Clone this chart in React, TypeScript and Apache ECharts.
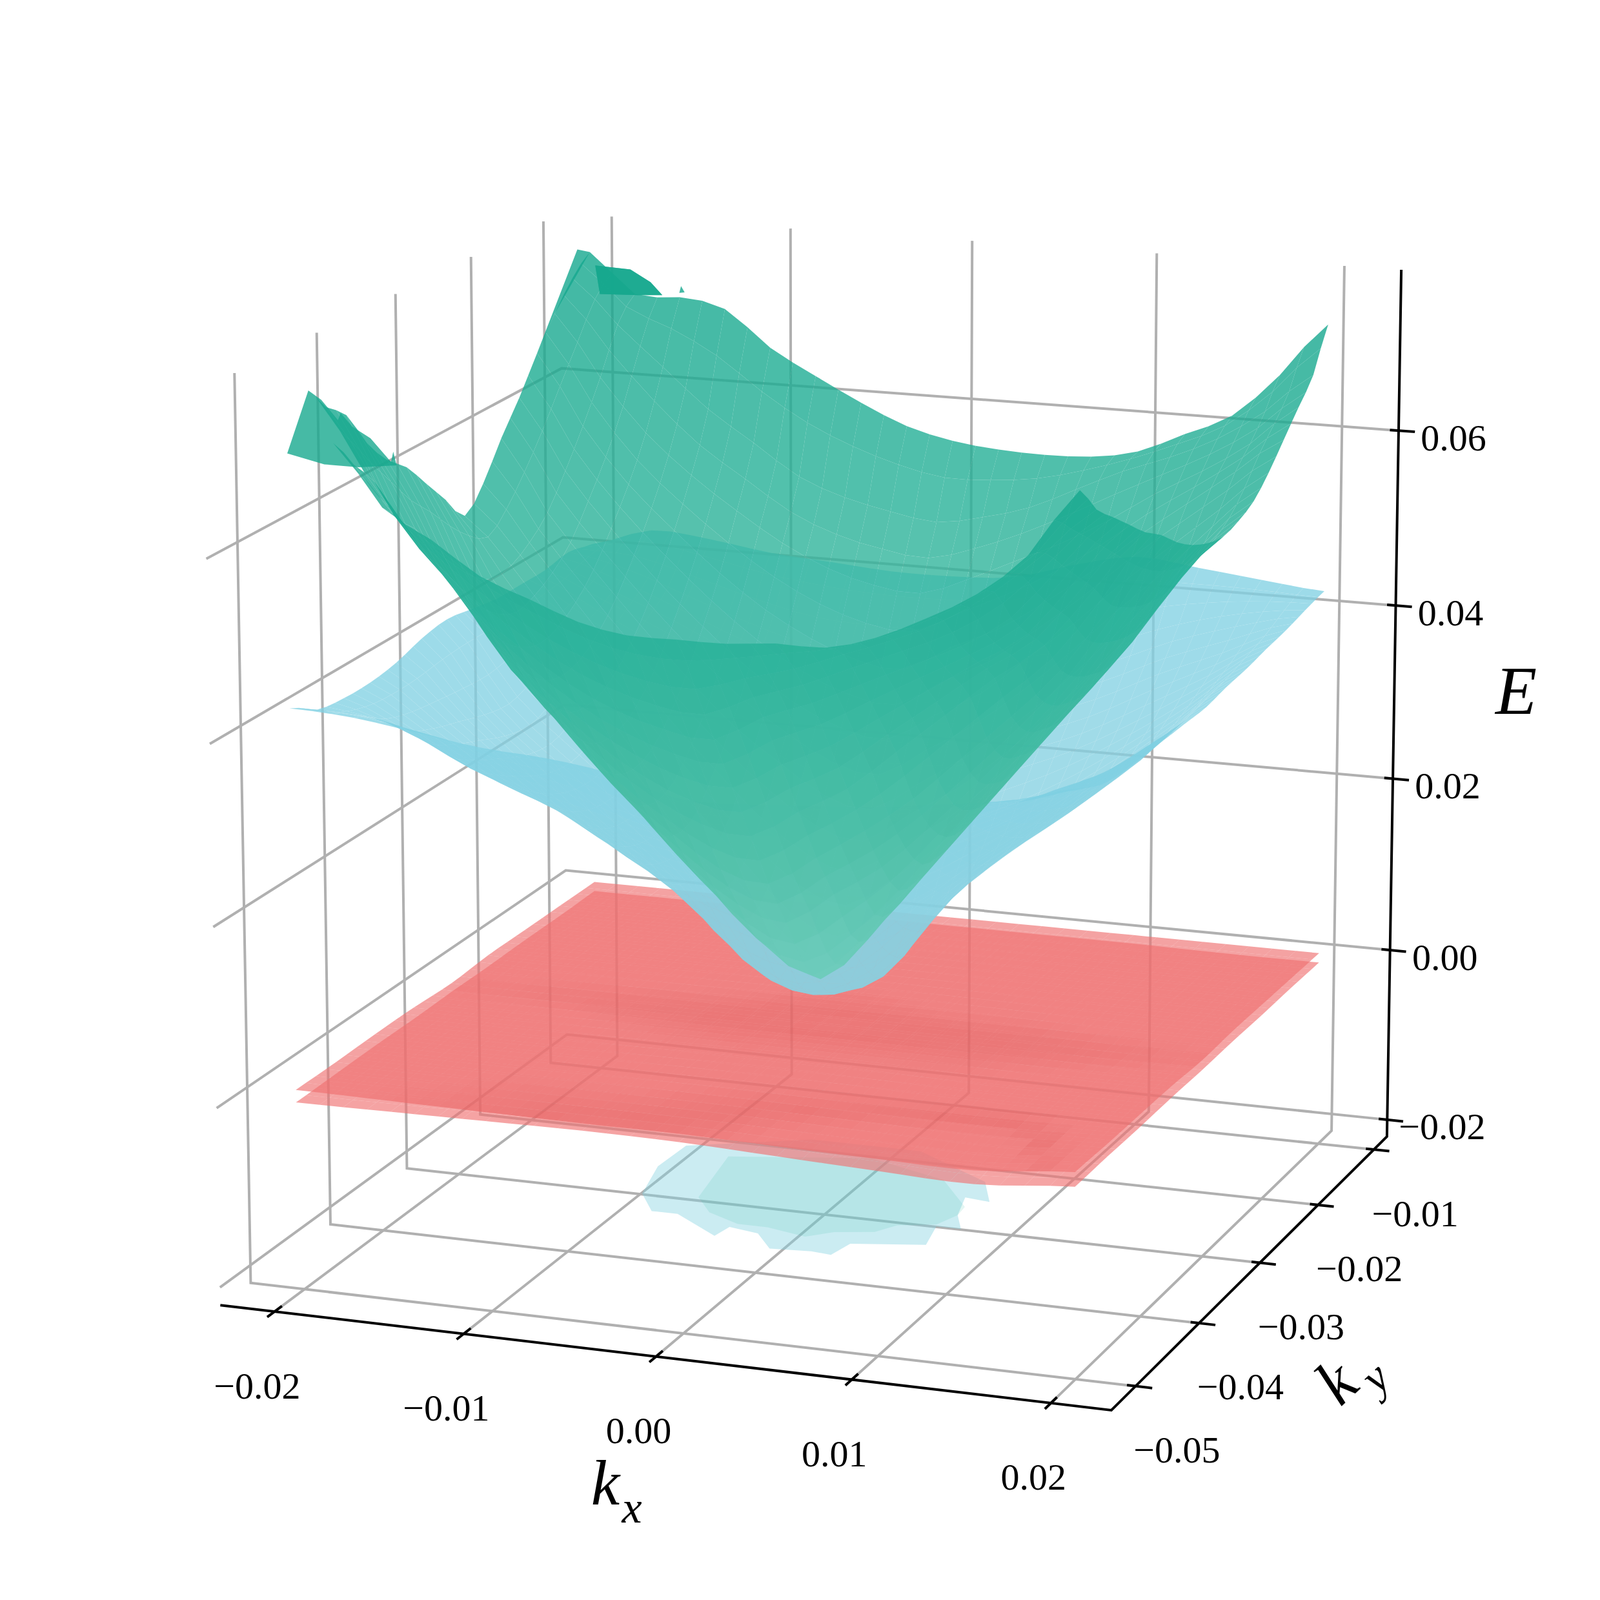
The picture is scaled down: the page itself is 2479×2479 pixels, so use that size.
import React, { useEffect, useRef } from "react";
import * as echarts from "echarts";

const kxTicks = [-0.02, -0.01, 0, 0.01, 0.02];
const kyTicks = [-0.05, -0.04, -0.03, -0.02, -0.01];
const eTicks = [-0.02, 0, 0.02, 0.04, 0.06];
const kxLabels = ["\u22120.02", "\u22120.01", "0.00", "0.01", "0.02"];
const kyLabels = ["\u22120.05", "\u22120.04", "\u22120.03", "\u22120.02", "\u22120.01"];
const eLabels = ["\u22120.02", "0.00", "0.02", "0.04", "0.06"];

// Energies in units of 0.001, rows run from ky=-0.05 to ky=-0.01, columns from kx=-0.02 to kx=0.02
const tealBand = [
  [70, 71.5, 65, 62, 58.5, 56.5, 54.5, 53.5, 53.5, 53.5, 54, 54, 55.5, 58, 61, 65.5, 72.7],
  [75.2, 68, 62, 57.6, 53.9, 50.9, 48.7, 47.3, 46.9, 48.5, 50, 52, 54, 56.5, 60, 64.5, 69.5],
  [72.7, 65, 58, 52.2, 48.3, 44.8, 42.3, 40.7, 40.1, 43, 45, 47.5, 50, 52.5, 56, 62, 67.5],
  [70.7, 60, 54, 48, 42.8, 39, 36.1, 34.1, 33.5, 36.5, 39, 42.5, 46, 49.5, 53, 59.5, 65.5],
  [66.5, 57.5, 50, 42.8, 37.9, 33.5, 30, 27.6, 26.8, 30, 33, 37.5, 42, 46.5, 50.5, 57, 63.5],
  [63.5, 54, 46.5, 39.5, 33.5, 28.4, 24.6, 21.2, 20.1, 23.5, 27, 31, 36, 41, 46.5, 54, 62],
  [61.5, 51, 43, 36.5, 30, 24.6, 19.5, 15.8, 14.3, 18, 21.5, 26.5, 32, 38, 44.5, 52.5, 60],
  [58.5, 48.5, 41, 34.1, 27.6, 21.2, 15.8, 10.6, 8.4, 12, 17.5, 24, 30.5, 37, 43.5, 51.5, 58.5],
  [55.5, 47, 40.1, 33.5, 26.8, 20.1, 14.3, 8.4, 5, 10, 17, 23.5, 30, 36.5, 43, 51, 57.5],
  [52.5, 47.3, 40.7, 34.1, 27.6, 21.2, 15.8, 10.6, 8.4, 12, 17.5, 24, 30.5, 37, 43.5, 51, 57],
  [55, 48.7, 42.3, 36.1, 30, 24.6, 19.5, 15.8, 14.3, 18, 21.5, 26.5, 32, 38, 44.5, 52, 57.5],
  [59, 50.9, 44.8, 39, 33.5, 28.4, 24.6, 21.2, 20.1, 23.5, 27, 31, 36, 41.5, 47, 53.5, 58.5],
  [62.5, 54.5, 48.3, 42.8, 37.9, 33.5, 30, 27.6, 26.8, 30, 33, 37.5, 42, 47, 51.5, 56, 60.5],
  [66.5, 58.5, 52.2, 47.3, 42.8, 39, 36.1, 34.1, 33.5, 36.5, 39, 42.5, 46.5, 51, 55, 59, 63],
  [70, 63, 57, 52.5, 48.8, 45.5, 43, 41.5, 41, 43, 45.5, 48, 51, 54.5, 57.5, 61, 65.5],
  [73, 68, 63.5, 59, 55.5, 52, 50, 48.8, 48, 49, 50.5, 53, 55.5, 57.5, 60, 63.5, 68],
  [75, 70.5, 70.5, 69.5, 65.4, 62.5, 59.8, 57.5, 56.2, 55.6, 55.4, 55.6, 56.6, 59, 61.5, 66.5, 72.6],
];
const cyanBand = [
  [42.4, 42, 41, 40, 39.5, 38.5, 36.5, 36.5, 37, 37.5, 38.5, 39.5, 41.3],
  [40.5, 40, 38, 36, 34.5, 32, 32, 32, 33, 34.3, 36, 37.8, 40],
  [40, 37, 33.5, 31, 29, 27.5, 27, 27.5, 29, 31, 33.5, 37, 39.5],
  [40, 35.5, 31, 27.5, 24.5, 22, 21.5, 22, 24.5, 27.5, 31, 35.5, 39.5],
  [40.5, 34.5, 29, 24, 19.7, 16.3, 15, 16.3, 19.7, 24, 29, 34.5, 39.5],
  [41.5, 33.5, 27.5, 22, 16.3, 9.5, 6.5, 9.5, 16.3, 22, 27.5, 33.5, 39.5],
  [42, 33, 27, 21.5, 15, 6, 3.5, 6, 15, 21.5, 27, 33, 39.5],
  [41.5, 34, 28, 22, 16.3, 9.5, 6.5, 9.5, 16.3, 22, 27.5, 33.5, 40],
  [41, 35, 29.5, 24.5, 19.7, 16.3, 15, 16.3, 19.7, 24, 29, 34.5, 40.3],
  [41, 36.5, 32, 27.5, 24.5, 22, 21.5, 22, 24.5, 27.5, 31.5, 36, 40.8],
  [41, 38, 35, 31.5, 29, 27.5, 27, 27.5, 29, 31.5, 35, 38, 41.2],
  [41.5, 40, 37.5, 35, 33, 32.5, 32.5, 33, 34.5, 36.5, 39, 40.8, 41.8],
  [40.8, 43, 42.5, 41.5, 41, 40.5, 40.5, 41, 43, 44.5, 43.8, 43, 42.3],
];
const redUpper = [
  [0.3, 0.2, 0.1, 0, 0, -0.2, -0.4, -0.5, 0.5],
  [0.3, 0.3, 0.2, 0.2, 0.1, 0, -0.1, -0.1, 0.4],
  [0.4, 0.4, 0.4, 0.4, 0.3, 0.3, 0.3, 0.3, 0.4],
  [0.4, 0.4, 0.3, 0.2, 0.2, 0.2, 0.2, 0.3, 0.4],
  [0.2, 0.15, 0.1, 0.05, 0, 0.02, 0.05, 0.1, 0.2],
  [0.5, 0.4, 0.4, 0.3, 0.2, 0.3, 0.3, 0.4, 0.4],
  [0.5, 0.5, 0.5, 0.4, 0.3, 0.4, 0.4, 0.4, 0.4],
  [0.5, 0.5, 0.5, 0.4, 0.4, 0.4, 0.4, 0.4, 0.4],
  [0.5, 0.5, 0.5, 0.4, 0.4, 0.4, 0.4, 0.4, 0.4],
];
const redLower = [
  [-1.1, -1, -0.9, -0.8, -0.9, -1.3, -1.7, -2, -1.1],
  [-1, -0.9, -0.8, -0.8, -0.8, -1, -1.2, -1.3, -1],
  [-0.9, -0.9, -0.8, -0.6, -0.5, -0.7, -0.9, -1, -1],
  [-0.9, -0.8, -0.6, -0.4, -0.3, -0.4, -0.7, -0.9, -0.9],
  [-0.8, -0.7, -0.5, -0.3, -0.2, -0.3, -0.5, -0.8, -0.9],
  [-0.8, -0.7, -0.6, -0.4, -0.3, -0.4, -0.6, -0.8, -0.8],
  [-0.7, -0.7, -0.7, -0.6, -0.5, -0.6, -0.7, -0.7, -0.8],
  [-0.7, -0.7, -0.7, -0.7, -0.6, -0.6, -0.7, -0.7, -0.7],
  [-0.6, -0.6, -0.6, -0.6, -0.6, -0.6, -0.6, -0.7, -0.7],
];
// Rims where the lower bands leave the box at E=-0.02: [kx, ky] in units of 0.001
const cyanLowerRim = [
  [-8.9, -32.55], [-7.4, -35.1], [-6, -35.1], [-3, -37.8], [-2.8, -36.2], [-1.1, -36.7], [0.3, -38.8],
  [2.4, -38.5], [3.5, -38.7], [3.8, -36.7], [7.4, -35.6], [6.9, -32.6], [8.2, -32.6], [7.3, -30.5],
  [6.7, -27.6], [8.1, -27.9], [6.8, -24.8], [2, -21], [-4, -21], [-9.7, -24.2], [-9.8, -28],
];
const tealLowerRim = [
  [-6, -32.15], [-4.6, -34.3], [-2.6, -35.6], [-1, -35.6], [1.3, -36.4], [2.4, -35.2], [4.3, -34.5],
  [5, -33.1], [6.8, -32.3], [7.3, -30.5], [7.2, -29.1], [4.7, -25.2], [0, -23], [-7, -25.2],
];
const lowerRimEnergy = -20;
// Folded strips of the teal band at the kx=-0.02 and ky=-0.01 edges: [kx, ky, E] in units of 0.001
const tealFoldFront = [
  [-20.2, -50, 70], [-20, -47.8, 75.8], [-20, -46.25, 74.1], [-20, -44.25, 71], [-20, -43.9, 71.6],
  [-20, -42.5, 69.5], [-20, -40.25, 67.2], [-20, -37.7, 63.4], [-20, -37.4, 64.4], [-20, -37, 62.7],
  [-20, -41.75, 64.7], [-20, -46, 67],
];
const tealFoldBack = [
  [-20, -10, 73.5], [-19.07, -10, 73.4], [-18.03, -10, 73.3], [-16.9, -10, 72], [-16.25, -10, 70.6],
  [-17.6, -10, 70.4], [-19.75, -10, 70.2],
];
const tealSpikeBack = [[-21, -10, 75.2], [-20.3, -10, 75], [-20.3, -15, 70], [-20.3, -17.5, 66.5]];
const tealSpike = [[-15.3, -10, 71], [-15.2, -10, 71.8], [-15, -10, 71.1]];

const BOX = { x0: -0.0229, x1: 0.023, y0: -0.0537, y1: -0.0076, z0: -0.022, z1: 0.0782 };
const S = 2479;

// camera fitted to the box corners as seen in the figure
const corners: number[][] = [
  [0, 0, 0, 340, 2020],
  [1, 0, 0, 1723, 2186],
  [1, 1, 0, 2148, 1760],
  [0, 1, 0, 880, 1630],
  [0, 0, 1, 315, 603],
  [1, 1, 1, 2171, 418],
  [0, 1, 1, 868, 329],
];
function solve(A: number[][], b: number[]) {
  const m = b.length;
  const M = A.map((r, i) => [...r, b[i]]);
  for (let c = 0; c < m; c++) {
    let p = c;
    for (let r = c + 1; r < m; r++) if (Math.abs(M[r][c]) > Math.abs(M[p][c])) p = r;
    [M[c], M[p]] = [M[p], M[c]];
    for (let r = 0; r < m; r++) {
      if (r === c) continue;
      const f = M[r][c] / M[c][c];
      for (let k = c; k <= m; k++) M[r][k] -= f * M[c][k];
    }
  }
  return M.map((r, i) => r[m] / r[i]);
}
function fitCamera() {
  const rows: number[][] = [];
  const rhs: number[] = [];
  corners.forEach(([x, y, z, u0, v0]) => {
    const u = u0 / 1000, v = v0 / 1000;
    rows.push([x, y, z, 1, 0, 0, 0, 0, -u * x, -u * y, -u * z]); rhs.push(u);
    rows.push([0, 0, 0, 0, x, y, z, 1, -v * x, -v * y, -v * z]); rhs.push(v);
  });
  const A = Array.from({ length: 11 }, (_, i) => Array.from({ length: 11 }, (_, j) => rows.reduce((s, r) => s + r[i] * r[j], 0)));
  const b = Array.from({ length: 11 }, (_, i) => rows.reduce((s, r, k) => s + r[i] * rhs[k], 0));
  return solve(A, b);
}
const P = fitCamera();
function project(kx: number, ky: number, e: number) {
  const x = (kx - BOX.x0) / (BOX.x1 - BOX.x0), y = (ky - BOX.y0) / (BOX.y1 - BOX.y0), z = (e - BOX.z0) / (BOX.z1 - BOX.z0);
  const w = P[8] * x + P[9] * y + P[10] * z + 1;
  return {
    p: [(1000 * (P[0] * x + P[1] * y + P[2] * z + P[3])) / w, (1000 * (P[4] * x + P[5] * y + P[6] * z + P[7])) / w],
    w,
  };
}

function spline(a: number[], f: number) {
  const out: number[] = [];
  const m = a.length;
  for (let k = 0; k < m - 1; k++) {
    const p0 = a[Math.max(k - 1, 0)], p1 = a[k], p2 = a[k + 1], p3 = a[Math.min(k + 2, m - 1)];
    for (let s = 0; s < f; s++) {
      const t = s / f;
      out.push(0.5 * (2 * p1 + (p2 - p0) * t + (2 * p0 - 5 * p1 + 4 * p2 - p3) * t * t + (-p0 + 3 * p1 - 3 * p2 + p3) * t * t * t));
    }
  }
  out.push(a[m - 1]);
  return out;
}
function smooth(g: number[][], f: number) {
  const r = g.map((row) => spline(row, f));
  const cols = r[0].map((_, i) => spline(r.map((row) => row[i]), f));
  return cols[0].map((_, j) => cols.map((c) => c[j]));
}

type Stop = number[];
type Poly = { pts: number[][]; fill: string; w: number };
function paint(e: number, stops: Stop[], alpha: number) {
  let a = stops[0], b = stops[stops.length - 1];
  for (let i = 0; i < stops.length - 1; i++) if (e >= stops[i][0] && e <= stops[i + 1][0]) { a = stops[i]; b = stops[i + 1]; }
  const t = Math.max(0, Math.min(1, (e - a[0]) / (b[0] - a[0] || 1)));
  const c = [1, 2, 3].map((k) => Math.round(a[k] + (b[k] - a[k]) * t));
  return `rgba(${c[0]},${c[1]},${c[2]},${alpha})`;
}
const XR = [-0.0203, 0.0199];
const YR = [-0.05, -0.01];
function surface(g: number[][], f: number, stops: Stop[], alpha: number, skip?: (i: number, j: number) => boolean): Poly[] {
  const m = smooth(g, f);
  const polys: Poly[] = [];
  const rows = m.length, cols = m[0].length;
  const pt = (i: number, j: number) => {
    const v = m[j][i];
    const kx = XR[0] + ((XR[1] - XR[0]) * i) / (cols - 1), ky = YR[0] + ((YR[1] - YR[0]) * j) / (rows - 1);
    return { ...project(kx, ky, v / 1000), e: v };
  };
  for (let j = 0; j < rows - 1; j++) {
    for (let i = 0; i < cols - 1; i++) {
      if (skip && skip(i, j)) continue;
      const q = [pt(i, j), pt(i + 1, j), pt(i + 1, j + 1), pt(i, j + 1)];
      const e = q.reduce((s, a) => s + a.e, 0) / 4;
      const w = q.reduce((s, a) => s + a.w, 0) / 4;
      polys.push({ pts: q.map((a) => a.p), fill: paint(e, stops, alpha), w });
    }
  }
  return polys.sort((a, b) => b.w - a.w);
}
function rimFill(rim: number[][], fill: string): Poly {
  return { pts: rim.map(([a, b]) => project(a / 1000, b / 1000, lowerRimEnergy / 1000).p), fill, w: 0 };
}
function strip(pts: number[][], stops: Stop[], alpha: number): Poly {
  const q = pts.map(([a, b, c]) => project(a / 1000, b / 1000, c / 1000));
  const e = pts.reduce((s, a) => s + a[2], 0) / pts.length;
  return { pts: q.map((a) => a.p), fill: paint(e, stops, alpha), w: 0 };
}

const tealStops = [[5, 112, 205, 188], [25, 75, 190, 165], [50, 40, 177, 152], [75, 18, 166, 140]];
const cyanStops = [[3, 138, 208, 224], [40, 128, 208, 226]];
const redStops = [[-2, 240, 116, 116], [-0.12, 238, 112, 112], [0.05, 230, 96, 96], [0.25, 238, 112, 112]];
const ALPHA = 0.8;
const CYAN_ALPHA = 0.77;
const RED_ALPHA = 0.65;

function buildPolys() {
  const low = rimFill(cyanLowerRim, "rgba(130,210,225,0.42)");
  const lowT = rimFill(tealLowerRim, "rgba(60,190,170,0.14)");
  const r2 = surface(redLower, 4, redStops, RED_ALPHA);
  const r1 = surface(redUpper, 4, redStops, RED_ALPHA);
  const cy = surface(cyanBand, 3, cyanStops, CYAN_ALPHA);
  const te = surface(tealBand, 2, tealStops, ALPHA, (i, j) => i < 2 && j < 3);
  const fb = () => strip(tealFoldBack, tealStops, ALPHA);
  const folds = [strip(tealFoldFront, tealStops, ALPHA), fb(), fb(), strip(tealSpike, tealStops, ALPHA), strip(tealSpikeBack, tealStops, ALPHA)];
  return [low, lowT, ...r2, ...r1, ...cy, ...te, ...folds];
}

type Seg = { pts: number[][]; color: string };
const GREY = "#b0b0b0";
function buildFrame(): Seg[] {
  const { x0, x1, y0, y1, z0, z1 } = BOX;
  const line = (c: string, ...a: number[][]): Seg => ({ color: c, pts: a.map(([x, y, z]) => project(x, y, z).p) });
  const out: Seg[] = [];
  eTicks.forEach((t) => out.push(line(GREY, [x0, y0, t], [x0, y1, t], [x1, y1, t])));
  kxTicks.forEach((t) => out.push(line(GREY, [t, y0, z0], [t, y1, z0], [t, y1, z1])));
  kyTicks.forEach((t) => out.push(line(GREY, [x1, t, z0], [x0, t, z0], [x0, t, z1])));
  out.push(line("#000", [x0, y0, z0], [x1, y0, z0], [x1, y1, z0], [x1, y1, z1]));
  kxTicks.forEach((t) => out.push(line("#000", [t, y0 - 0.0009, z0], [t, y0 + 0.0009, z0])));
  kyTicks.forEach((t) => out.push(line("#000", [x1 - 0.00043, t, z0], [x1 + 0.00083, t, z0])));
  eTicks.forEach((t) => out.push(line("#000", [x1 - 0.00046, y1, t], [x1 + 0.00086, y1, t])));
  return out;
}

type Label = { text: string; x: number; y: number; size: number; italic?: boolean; rot?: number };
function buildLabels(): Label[] {
  const { x1, y0, y1, z0 } = BOX;
  const out: Label[] = [];
  kxTicks.forEach((t, i) => { const p = project(t, y0, z0).p; out.push({ text: kxLabels[i], x: p[0] - 27, y: p[1] + 115, size: 58 }); });
  kyTicks.forEach((t, i) => { const p = project(x1, t, z0).p; out.push({ text: kyLabels[i], x: p[0] + 64, y: p[1] + 99, size: 58 }); });
  eTicks.forEach((t, i) => { const p = project(x1, y1, t).p; out.push({ text: eLabels[i], x: p[0] + 85, y: p[1] + 11, size: 58 }); });
  out.push({ text: "E", x: 2349, y: 1070, size: 105, italic: true });
  out.push({ text: "k", x: 938, y: 2297, size: 100, italic: true });
  out.push({ text: "x", x: 979, y: 2335, size: 70, italic: true });
  out.push({ text: "k", x: 2070, y: 2141, size: 100, italic: true, rot: 0.75 });
  out.push({ text: "y", x: 2130, y: 2134, size: 70, italic: true, rot: 0.75 });
  return out;
}

export default function App() {
  const ref = useRef<HTMLDivElement>(null);
  useEffect(() => {
    const chart = echarts.init(ref.current!, undefined, { renderer: "svg" });
    const frame = buildFrame();
    const polys = buildPolys();
    const labels = buildLabels();
    const ids = (a: unknown[]) => a.map((_, i) => [i]);
    chart.setOption({
      animation: false,
      backgroundColor: "#fff",
      grid: { left: 0, right: 0, top: 0, bottom: 0 },
      xAxis: { type: "value", min: 0, max: S, show: false },
      yAxis: { type: "value", min: 0, max: S, inverse: true, show: false },
      tooltip: { show: false },
      series: [
        {
          type: "custom", silent: true, clip: false, data: ids(frame), z: 1,
          renderItem: (p: any, api: any) => {
            const s = frame[p.dataIndex];
            return { type: "polyline", shape: { points: s.pts.map((q) => api.coord(q)) }, style: { stroke: s.color, lineWidth: 4, fill: "none" } };
          },
        },
        {
          type: "custom", silent: true, clip: false, data: ids(polys), z: 2,
          renderItem: (p: any, api: any) => {
            const s = polys[p.dataIndex];
            return { type: "polygon", shape: { points: s.pts.map((q) => api.coord(q)) }, style: { fill: s.fill, stroke: "none" } };
          },
        },
        {
          type: "custom", silent: true, clip: false, data: ids(labels), z: 3,
          renderItem: (p: any, api: any) => {
            const l = labels[p.dataIndex];
            const c = api.coord([l.x, l.y]);
            return {
              type: "text", x: c[0], y: c[1], rotation: l.rot || 0,
              style: {
                text: l.text, fill: "#000", fontSize: l.size, fontFamily: "'Liberation Serif'", fontStyle: l.italic ? "italic" : "normal",
                textAlign: "center", textVerticalAlign: "middle", align: "center", verticalAlign: "middle",
              },
            };
          },
        },
      ],
    });
    return () => chart.dispose();
  }, []);
  return <div ref={ref} style={{ position: "absolute", left: 0, top: 0, width: S, height: S }} />;
}
